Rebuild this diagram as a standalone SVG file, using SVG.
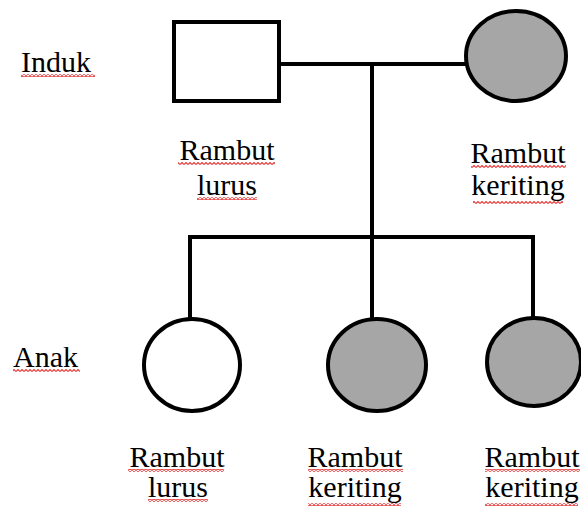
<svg xmlns="http://www.w3.org/2000/svg" width="581" height="508" viewBox="0 0 581 508">
<style>
.sym{stroke:#000;stroke-width:4;}
.aff{fill:#a6a6a6;}
.un{fill:#fff;}
.sq{fill:url(#squig);}
</style>
<defs>
<pattern id="squig" x="0" y="0" width="4" height="3" patternUnits="userSpaceOnUse">
<path d="M0 2.5 L2 0.5 L4 2.5" fill="none" stroke="#e64040" stroke-width="1.2"/>
</pattern>
</defs>
<rect width="581" height="508" fill="#fff"/>
<g id="connectors" stroke="#000" stroke-width="4" fill="none">
<path d="M280 64 H466"/>
<path d="M372 64 V319"/>
<path d="M190 319 V237 H533 V320"/>
</g>
<g id="father">
<rect class="sym un" x="174" y="22" width="105" height="79"/>
<text text-anchor="middle" x="227" y="160" font-family="Times New Roman, Liberation Serif, serif" font-size="30">Rambut</text>
<text text-anchor="middle" x="227" y="195" font-family="Times New Roman, Liberation Serif, serif" font-size="30">lurus</text>
<rect class="sq" x="178" y="162" width="97" height="3"/>
<rect class="sq" x="197" y="197" width="60" height="3"/>
</g>
<g id="mother">
<ellipse class="sym aff" cx="516" cy="56" rx="50" ry="45"/>
<text text-anchor="middle" x="518" y="163" font-family="Times New Roman, Liberation Serif, serif" font-size="30">Rambut</text>
<text text-anchor="middle" x="518" y="195" font-family="Times New Roman, Liberation Serif, serif" font-size="30">keriting</text>
<rect class="sq" x="471" y="165" width="95" height="3"/>
<rect class="sq" x="473" y="201" width="90" height="3"/>
</g>
<g id="label-induk">
<text x="21" y="72" font-family="Times New Roman, Liberation Serif, serif" font-size="30">Induk</text>
<rect class="sq" x="21" y="74" width="74" height="3"/>
</g>
<g id="label-anak">
<text x="13" y="367" font-family="Times New Roman, Liberation Serif, serif" font-size="30">Anak</text>
<rect class="sq" x="13" y="369" width="67" height="3"/>
</g>
<g id="child1">
<ellipse class="sym un" cx="192" cy="365" rx="48" ry="46"/>
<text text-anchor="middle" x="177" y="467" font-family="Times New Roman, Liberation Serif, serif" font-size="30">Rambut</text>
<text text-anchor="middle" x="178" y="497" font-family="Times New Roman, Liberation Serif, serif" font-size="30">lurus</text>
<rect class="sq" x="128" y="469" width="96" height="3"/>
<rect class="sq" x="148" y="499" width="60" height="3"/>
</g>
<g id="child2">
<ellipse class="sym aff" cx="377" cy="365" rx="49" ry="46"/>
<text text-anchor="middle" x="355" y="467" font-family="Times New Roman, Liberation Serif, serif" font-size="30">Rambut</text>
<text text-anchor="middle" x="355" y="497" font-family="Times New Roman, Liberation Serif, serif" font-size="30">keriting</text>
<rect class="sq" x="308" y="469" width="95" height="3"/>
<rect class="sq" x="308" y="503" width="93" height="3"/>
</g>
<g id="child3">
<ellipse class="sym aff" cx="534" cy="362" rx="47" ry="44"/>
<text text-anchor="middle" x="532" y="467" font-family="Times New Roman, Liberation Serif, serif" font-size="30">Rambut</text>
<text text-anchor="middle" x="532" y="497" font-family="Times New Roman, Liberation Serif, serif" font-size="30">keriting</text>
<rect class="sq" x="485" y="469" width="95" height="3"/>
<rect class="sq" x="485" y="503" width="93" height="3"/>
</g>
</svg>
